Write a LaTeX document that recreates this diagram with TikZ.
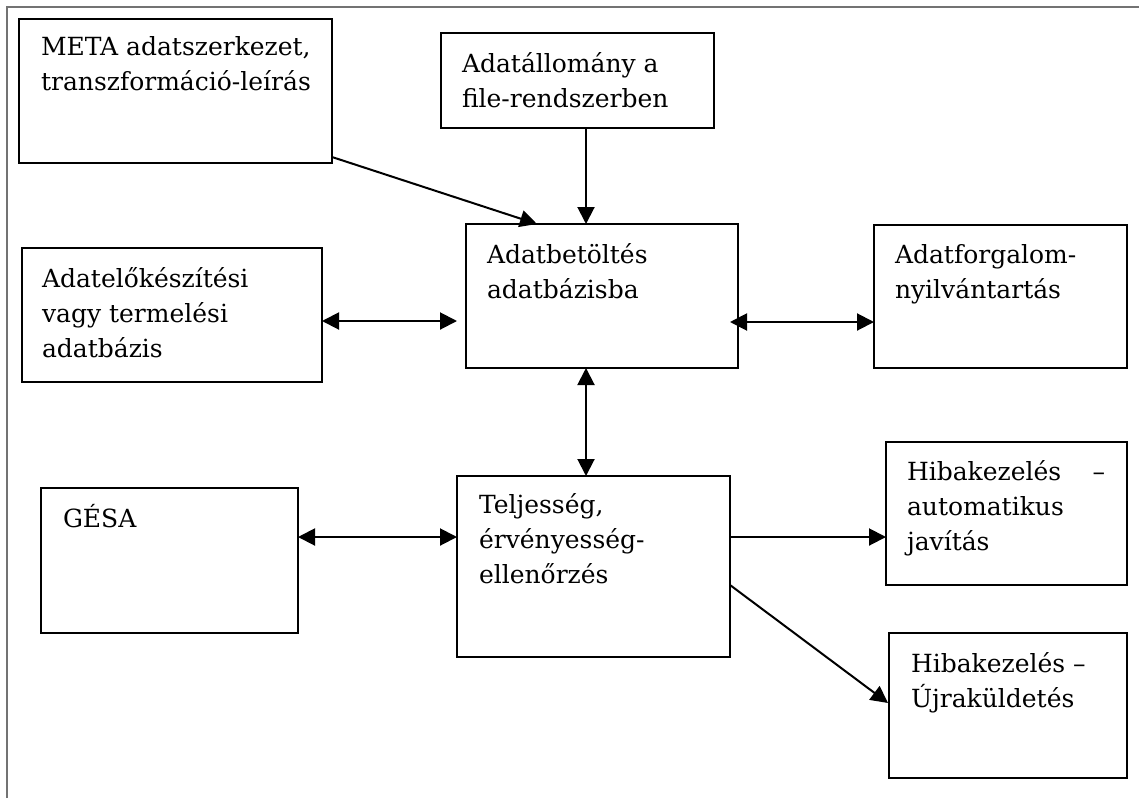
\documentclass[tikz,border=0pt]{standalone}
\usepackage{fontspec}
\setmainfont{DejaVu Serif}
\usetikzlibrary{arrows.meta}
\definecolor{framec}{gray}{0.45}
\tikzset{
  box/.style={draw, line width=2.2pt, inner sep=0pt, outer sep=0pt, anchor=north west},
  lbl/.style={anchor=base west, inner sep=0pt, outer sep=0pt, font=\fontsize{25}{35}\selectfont},
  tip/.tip={Triangle[length=17pt,width=17pt]},
  conn/.style={line width=2pt, -tip},
  conntwo/.style={line width=2pt, tip-tip},
}
\begin{document}
\begin{tikzpicture}[x=1pt,y=-1pt]
\useasboundingbox (0,0) rectangle (1139,798);
\draw[framec, line width=1.3pt] (7,798) -- (7,7) -- (1139,7);

% boxes
\node[box, minimum width=313pt, minimum height=144pt] (meta) at (19,19) {};
\node[box, minimum width=273pt, minimum height=95pt] (file) at (441,33) {};
\node[box, minimum width=272pt, minimum height=144pt] (betolt) at (466,224) {};
\node[box, minimum width=300pt, minimum height=134pt] (elok) at (22,248) {};
\node[box, minimum width=253pt, minimum height=143pt] (forg) at (874,225) {};
\node[box, minimum width=257pt, minimum height=145pt] (gesa) at (41,488) {};
\node[box, minimum width=273pt, minimum height=181pt] (telj) at (457,476) {};
\node[box, minimum width=241pt, minimum height=143pt] (hibaauto) at (886,442) {};
\node[box, minimum width=238pt, minimum height=145pt] (ujra) at (889,633) {};

% texts
\node[lbl] (metaT) at ([xshift=22pt,yshift=-36pt]meta.north west) {\parbox[t]{300pt}{META adatszerkezet,\\transzformáció-leírás}};
\node[lbl] (fileT) at ([xshift=21pt,yshift=-39pt]file.north west) {\parbox[t]{260pt}{Adatállomány a\\file-rendszerben}};
\node[lbl] (betoltT) at ([xshift=21pt,yshift=-39pt]betolt.north west) {\parbox[t]{250pt}{Adatbetöltés\\adatbázisba}};
\node[lbl] (elokT) at ([xshift=20pt,yshift=-39pt]elok.north west) {\parbox[t]{280pt}{Adatelőkészítési\\vagy termelési\\adatbázis}};
\node[lbl] (forgT) at ([xshift=21pt,yshift=-38pt]forg.north west) {\parbox[t]{230pt}{Adatforgalom-\\nyilvántartás}};
\node[lbl] (gesaT) at ([xshift=22pt,yshift=-39pt]gesa.north west) {\parbox[t]{230pt}{GÉSA}};
\node[lbl] (teljT) at ([xshift=22pt,yshift=-37pt]telj.north west) {\parbox[t]{250pt}{Teljesség,\\érvényesség-\\ellenőrzés}};
\node[lbl] (hibaautoT) at ([xshift=21pt,yshift=-38pt]hibaauto.north west) {\parbox[t]{198pt}{Hibakezelés\hfill –\\automatikus\\javítás}};
\node[lbl] (ujraT) at ([xshift=22pt,yshift=-39pt]ujra.north west) {\parbox[t]{215pt}{Hibakezelés –\\Újraküldetés}};

% connectors
\draw[conn] ([yshift=-138pt]meta.north east) -- ([xshift=71pt]betolt.north west);
\draw[conn] ([xshift=145pt]file.south west) -- ([xshift=120pt]betolt.north west);
\draw[conntwo] ([yshift=-73pt]elok.north east) -- ([xshift=-9pt,yshift=-97pt]betolt.north west);
\draw[conntwo] ([xshift=-8pt,yshift=-98pt]betolt.north east) -- ([yshift=-97pt]forg.north west);
\draw[conntwo] ([xshift=120pt]betolt.south west) -- ([xshift=129pt]telj.north west);
\draw[conntwo] ([yshift=-49pt]gesa.north east) -- ([yshift=-61pt]telj.north west);
\draw[conn] ([yshift=-61pt]telj.north east) -- ([yshift=-95pt]hibaauto.north west);
\draw[conn] ([yshift=-109pt]telj.north east) -- ([xshift=-1pt,yshift=-70pt]ujra.north west);
\end{tikzpicture}
\end{document}
